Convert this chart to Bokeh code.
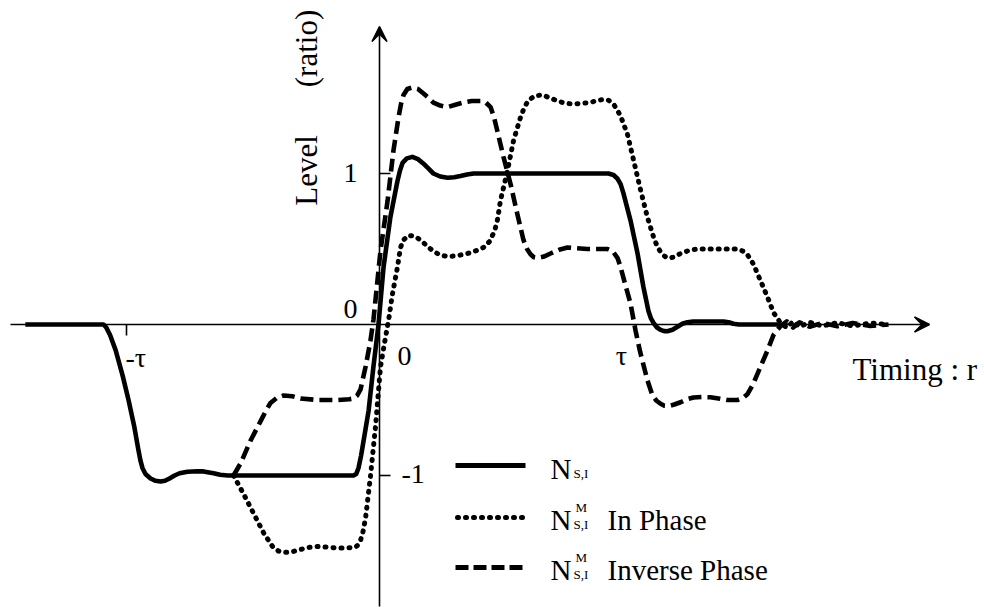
from math import pi
from bokeh.plotting import figure
from bokeh.models import Range1d, Arrow, VeeHead
from bokeh.core.properties import value
from bokeh.embed import file_html
from bokeh.resources import INLINE

# ---- data (x in units of tau, y = level ratio) ----
solid_t = [-1.400, -1.091, -1.080, -1.065, -1.043, -1.015, -0.992, -0.970, -0.953, -0.945,
           -0.937, -0.925, -0.905, -0.885, -0.866, -0.848, -0.830, -0.810, -0.790, -0.759,
           -0.720, -0.696, -0.656, -0.630, -0.600, -0.103, -0.092, -0.083, -0.073, -0.063,
           -0.043, -0.024, -0.004, 0.016, 0.043, 0.071, 0.081, 0.091, 0.108, 0.130,
           0.152, 0.174, 0.195, 0.213, 0.240, 0.269, 0.295, 0.320, 0.346, 0.372,
           0.905, 0.925, 0.941, 0.953, 0.964, 0.992, 1.020, 1.043, 1.063, 1.073,
           1.083, 1.097, 1.111, 1.125, 1.138, 1.158, 1.178, 1.197, 1.217, 1.240,
           1.269, 1.360, 1.380, 1.399, 1.420, 1.585]
solid_level = [0.00, 0.00, -0.02, -0.07, -0.17, -0.34, -0.50, -0.67, -0.83, -0.90,
               -0.95, -0.99, -1.02, -1.035, -1.04, -1.035, -1.02, -1.00, -0.985, -0.975,
               -0.972, -0.973, -0.985, -0.995, -1.00, -1.00, -0.99, -0.95, -0.87, -0.77,
               -0.57, -0.28, 0.00, 0.38, 0.71, 0.95, 1.02, 1.07, 1.10, 1.11,
               1.095, 1.065, 1.03, 1.00, 0.98, 0.972, 0.975, 0.983, 0.993, 1.00,
               1.00, 0.99, 0.965, 0.93, 0.87, 0.69, 0.47, 0.25, 0.09, 0.04,
               0.01, -0.02, -0.036, -0.044, -0.045, -0.035, -0.015, 0.005, 0.015, 0.02,
               0.02, 0.02, 0.015, 0.005, 0.00, 0.00]

inphase_t = [-0.577, -0.538, -0.498, -0.458, -0.423, -0.400, -0.379, -0.345, -0.312, -0.275,
             -0.241, -0.205, -0.166, -0.130, -0.095, -0.085, -0.075, -0.065, -0.055, -0.036,
             -0.016, 0.004, 0.020, 0.036, 0.051, 0.071, 0.083, 0.095, 0.115, 0.138,
             0.162, 0.188, 0.213, 0.240, 0.269, 0.305, 0.348, 0.385, 0.411, 0.435,
             0.455, 0.467, 0.478, 0.506, 0.530, 0.557, 0.573, 0.589, 0.615, 0.644,
             0.675, 0.704, 0.735, 0.767, 0.800, 0.834, 0.862, 0.885, 0.905, 0.925,
             0.940, 0.953, 0.980, 1.004, 1.032, 1.059, 1.083, 1.097, 1.111, 1.125,
             1.138, 1.162, 1.190, 1.222, 1.257, 1.320, 1.415, 1.438, 1.455, 1.478,
             1.506, 1.534, 1.557, 1.585, 1.610, 1.635, 1.660, 1.700, 1.750, 1.810,
             1.870, 1.940, 2.012]
inphase_level = [-1.00, -1.12, -1.25, -1.38, -1.47, -1.50, -1.51, -1.505, -1.49, -1.475,
                 -1.47, -1.475, -1.48, -1.48, -1.475, -1.46, -1.43, -1.37, -1.28, -1.01,
                 -0.68, -0.28, -0.12, 0.03, 0.20, 0.38, 0.51, 0.56, 0.59, 0.585,
                 0.56, 0.52, 0.485, 0.46, 0.45, 0.455, 0.47, 0.49, 0.51, 0.55,
                 0.62, 0.70, 0.82, 1.02, 1.22, 1.37, 1.44, 1.485, 1.515, 1.52,
                 1.50, 1.48, 1.465, 1.46, 1.465, 1.47, 1.485, 1.49, 1.485, 1.46,
                 1.42, 1.38, 1.26, 1.09, 0.89, 0.71, 0.58, 0.52, 0.48, 0.455,
                 0.44, 0.445, 0.47, 0.49, 0.50, 0.50, 0.50, 0.485, 0.46, 0.40,
                 0.29, 0.18, 0.08, 0.01, -0.02, 0.02, -0.015, 0.015, -0.01, 0.012,
                 -0.01, 0.01, 0.00]

inverse_t = [-0.577, -0.549, -0.510, -0.470, -0.450, -0.431, -0.405, -0.379, -0.345, -0.312,
             -0.245, -0.166, -0.120, -0.103, -0.088, -0.075, -0.055, -0.036, -0.024, -0.016,
             0.004, 0.032, 0.055, 0.075, 0.085, 0.095, 0.110, 0.130, 0.152, 0.174,
             0.195, 0.213, 0.240, 0.269, 0.300, 0.332, 0.365, 0.399, 0.420, 0.439,
             0.453, 0.466, 0.490, 0.518, 0.545, 0.569, 0.583, 0.597, 0.610, 0.624,
             0.650, 0.676, 0.710, 0.743, 0.780, 0.822, 0.901, 0.922, 0.941, 0.953,
             0.964, 0.992, 1.012, 1.030, 1.059, 1.079, 1.095, 1.111, 1.126, 1.142,
             1.165, 1.190, 1.215, 1.241, 1.275, 1.308, 1.340, 1.375, 1.415, 1.438,
             1.455, 1.478, 1.506, 1.534, 1.557, 1.585, 1.610, 1.635, 1.660, 1.700,
             1.750, 1.810, 1.870, 1.940, 2.012]
inverse_level = [-1.00, -0.92, -0.77, -0.64, -0.575, -0.52, -0.485, -0.47, -0.475, -0.49,
                 -0.50, -0.50, -0.495, -0.49, -0.47, -0.43, -0.28, -0.11, 0.03, 0.16,
                 0.49, 0.82, 1.15, 1.37, 1.46, 1.52, 1.56, 1.57, 1.56, 1.53,
                 1.50, 1.47, 1.45, 1.44, 1.455, 1.47, 1.48, 1.48, 1.47, 1.44,
                 1.37, 1.28, 1.11, 0.93, 0.73, 0.56, 0.50, 0.465, 0.445, 0.44,
                 0.45, 0.47, 0.495, 0.51, 0.505, 0.50, 0.50, 0.485, 0.44, 0.38,
                 0.31, 0.14, -0.04, -0.18, -0.37, -0.47, -0.505, -0.525, -0.538, -0.54,
                 -0.53, -0.515, -0.495, -0.483, -0.48, -0.482, -0.49, -0.50, -0.50, -0.485,
                 -0.46, -0.39, -0.28, -0.17, -0.07, -0.01, 0.02, -0.02, 0.015, -0.015,
                 0.01, -0.012, 0.01, -0.01, 0.00]

tick_labels_y = ["1", "0", "-1"]
tick_labels_x = ["-τ", "0", "τ"]
legend_labels = ["In Phase", "Inverse Phase"]

# ---- layout helpers (pixel -> data) ----
W, H = 984, 607
OX, OY = 379.0, 324.0      # origin in pixels
SX, SY = 253.0, 151.0      # pixels per tau / per level unit


def X(px):
    return (px - OX) / SX


def Y(py):
    return (OY - py) / SY


def mid(baseline_px, fs):
    # vertical centre of a text line whose baseline is at baseline_px
    return baseline_px - 0.34 * fs


p = figure(width=W, height=H, output_backend="svg", toolbar_location=None,
           x_range=Range1d(X(0), X(W)), y_range=Range1d(Y(H), Y(0)),
           x_axis_type=None, y_axis_type=None, min_border=0,
           background_fill_color="white", border_fill_color="white")
p.grid.visible = False
p.outline_line_color = None

# axes with arrows
p.add_layout(Arrow(end=VeeHead(size=15, fill_color="black", line_color="black", line_width=1.5),
                   x_start=X(10), y_start=0, x_end=X(929), y_end=0,
                   line_color="black", line_width=1.6))
p.add_layout(Arrow(end=VeeHead(size=15, fill_color="black", line_color="black", line_width=1.5),
                   x_start=0, y_start=Y(606), x_end=0, y_end=Y(26),
                   line_color="black", line_width=1.6))
# ticks
p.segment(x0=[-1.0], y0=[0.0], x1=[-1.0], y1=[Y(335)], line_color="black", line_width=1.6)
p.segment(x0=[0.0, 0.0], y0=[1.0, -1.0], x1=[X(390), X(390)], y1=[1.0, -1.0],
          line_color="black", line_width=1.6)

# curves
p.line(inphase_t, inphase_level, line_color="black", line_width=5,
       line_dash="1 7", line_cap="round", line_join="round")
p.line(inverse_t, inverse_level, line_color="black", line_width=4.6,
       line_dash="13 6", line_cap="butt", line_join="round")
p.line(solid_t, solid_level, line_color="black", line_width=4.6, line_join="round")

FONT = value("Liberation Serif")
TK, TT, LG, SM = 28, 31, 29, 13

# tick labels
p.text(x=[X(350), X(350), X(401)], y=[Y(mid(182, TK)), Y(mid(318, TK)), Y(mid(483, TK))],
       text=tick_labels_y, text_font=FONT, text_font_size=f"{TK}px",
       text_align=["center", "center", "left"], text_baseline="middle", text_color="black")
p.text(x=[X(125), X(404), X(621)], y=[Y(mid(367, TK)), Y(mid(365, TK)), Y(mid(365, TK))],
       text=tick_labels_x, text_font=FONT, text_font_size=f"{TK}px",
       text_align=["left", "center", "center"], text_baseline="middle", text_color="black")

# axis titles
p.text(x=[X(852)], y=[Y(mid(380, TT))], text=["Timing : r"], text_font=FONT,
       text_font_size=f"{TT}px", text_align="left", text_baseline="middle", text_color="black")
p.text(x=[X(mid(317, TT)), X(mid(317, TT))], y=[Y(170), Y(48)], text=["Level", "(ratio)"],
       angle=pi / 2, text_font=FONT, text_font_size=f"{TT}px", text_align="center",
       text_baseline="middle", text_color="black")

# legend samples
p.line([X(455), X(525)], [Y(465), Y(465)], line_color="black", line_width=5)
p.line([X(457), X(526)], [Y(517), Y(517)], line_color="black", line_width=5,
       line_dash="1 7", line_cap="round")
p.line([X(455), X(522)], [Y(567), Y(567)], line_color="black", line_width=4.8,
       line_dash="13 5", line_cap="butt")

p.text(x=[X(550)] * 3, y=[Y(mid(478, LG)), Y(mid(529, LG)), Y(mid(579, LG))],
       text=["N", "N", "N"], text_font=FONT, text_font_size=f"{LG}px", text_align="left",
       text_baseline="middle", text_color="black")
p.text(x=[X(573)] * 3, y=[Y(mid(477, SM)), Y(mid(528, SM)), Y(mid(578, SM))],
       text=["S,I", "S,I", "S,I"], text_font=FONT, text_font_size=f"{SM}px", text_align="left",
       text_baseline="middle", text_color="black")
p.text(x=[X(575)] * 2, y=[Y(mid(511, SM)), Y(mid(561, SM))], text=["M", "M"],
       text_font=FONT, text_font_size=f"{SM}px", text_align="left",
       text_baseline="middle", text_color="black")
p.text(x=[X(607)] * 2, y=[Y(mid(529, LG)), Y(mid(579, LG))], text=legend_labels,
       text_font=FONT, text_font_size=f"{LG}px", text_align="left",
       text_baseline="middle", text_color="black")

open("out.html", "w").write(file_html(p, INLINE))
